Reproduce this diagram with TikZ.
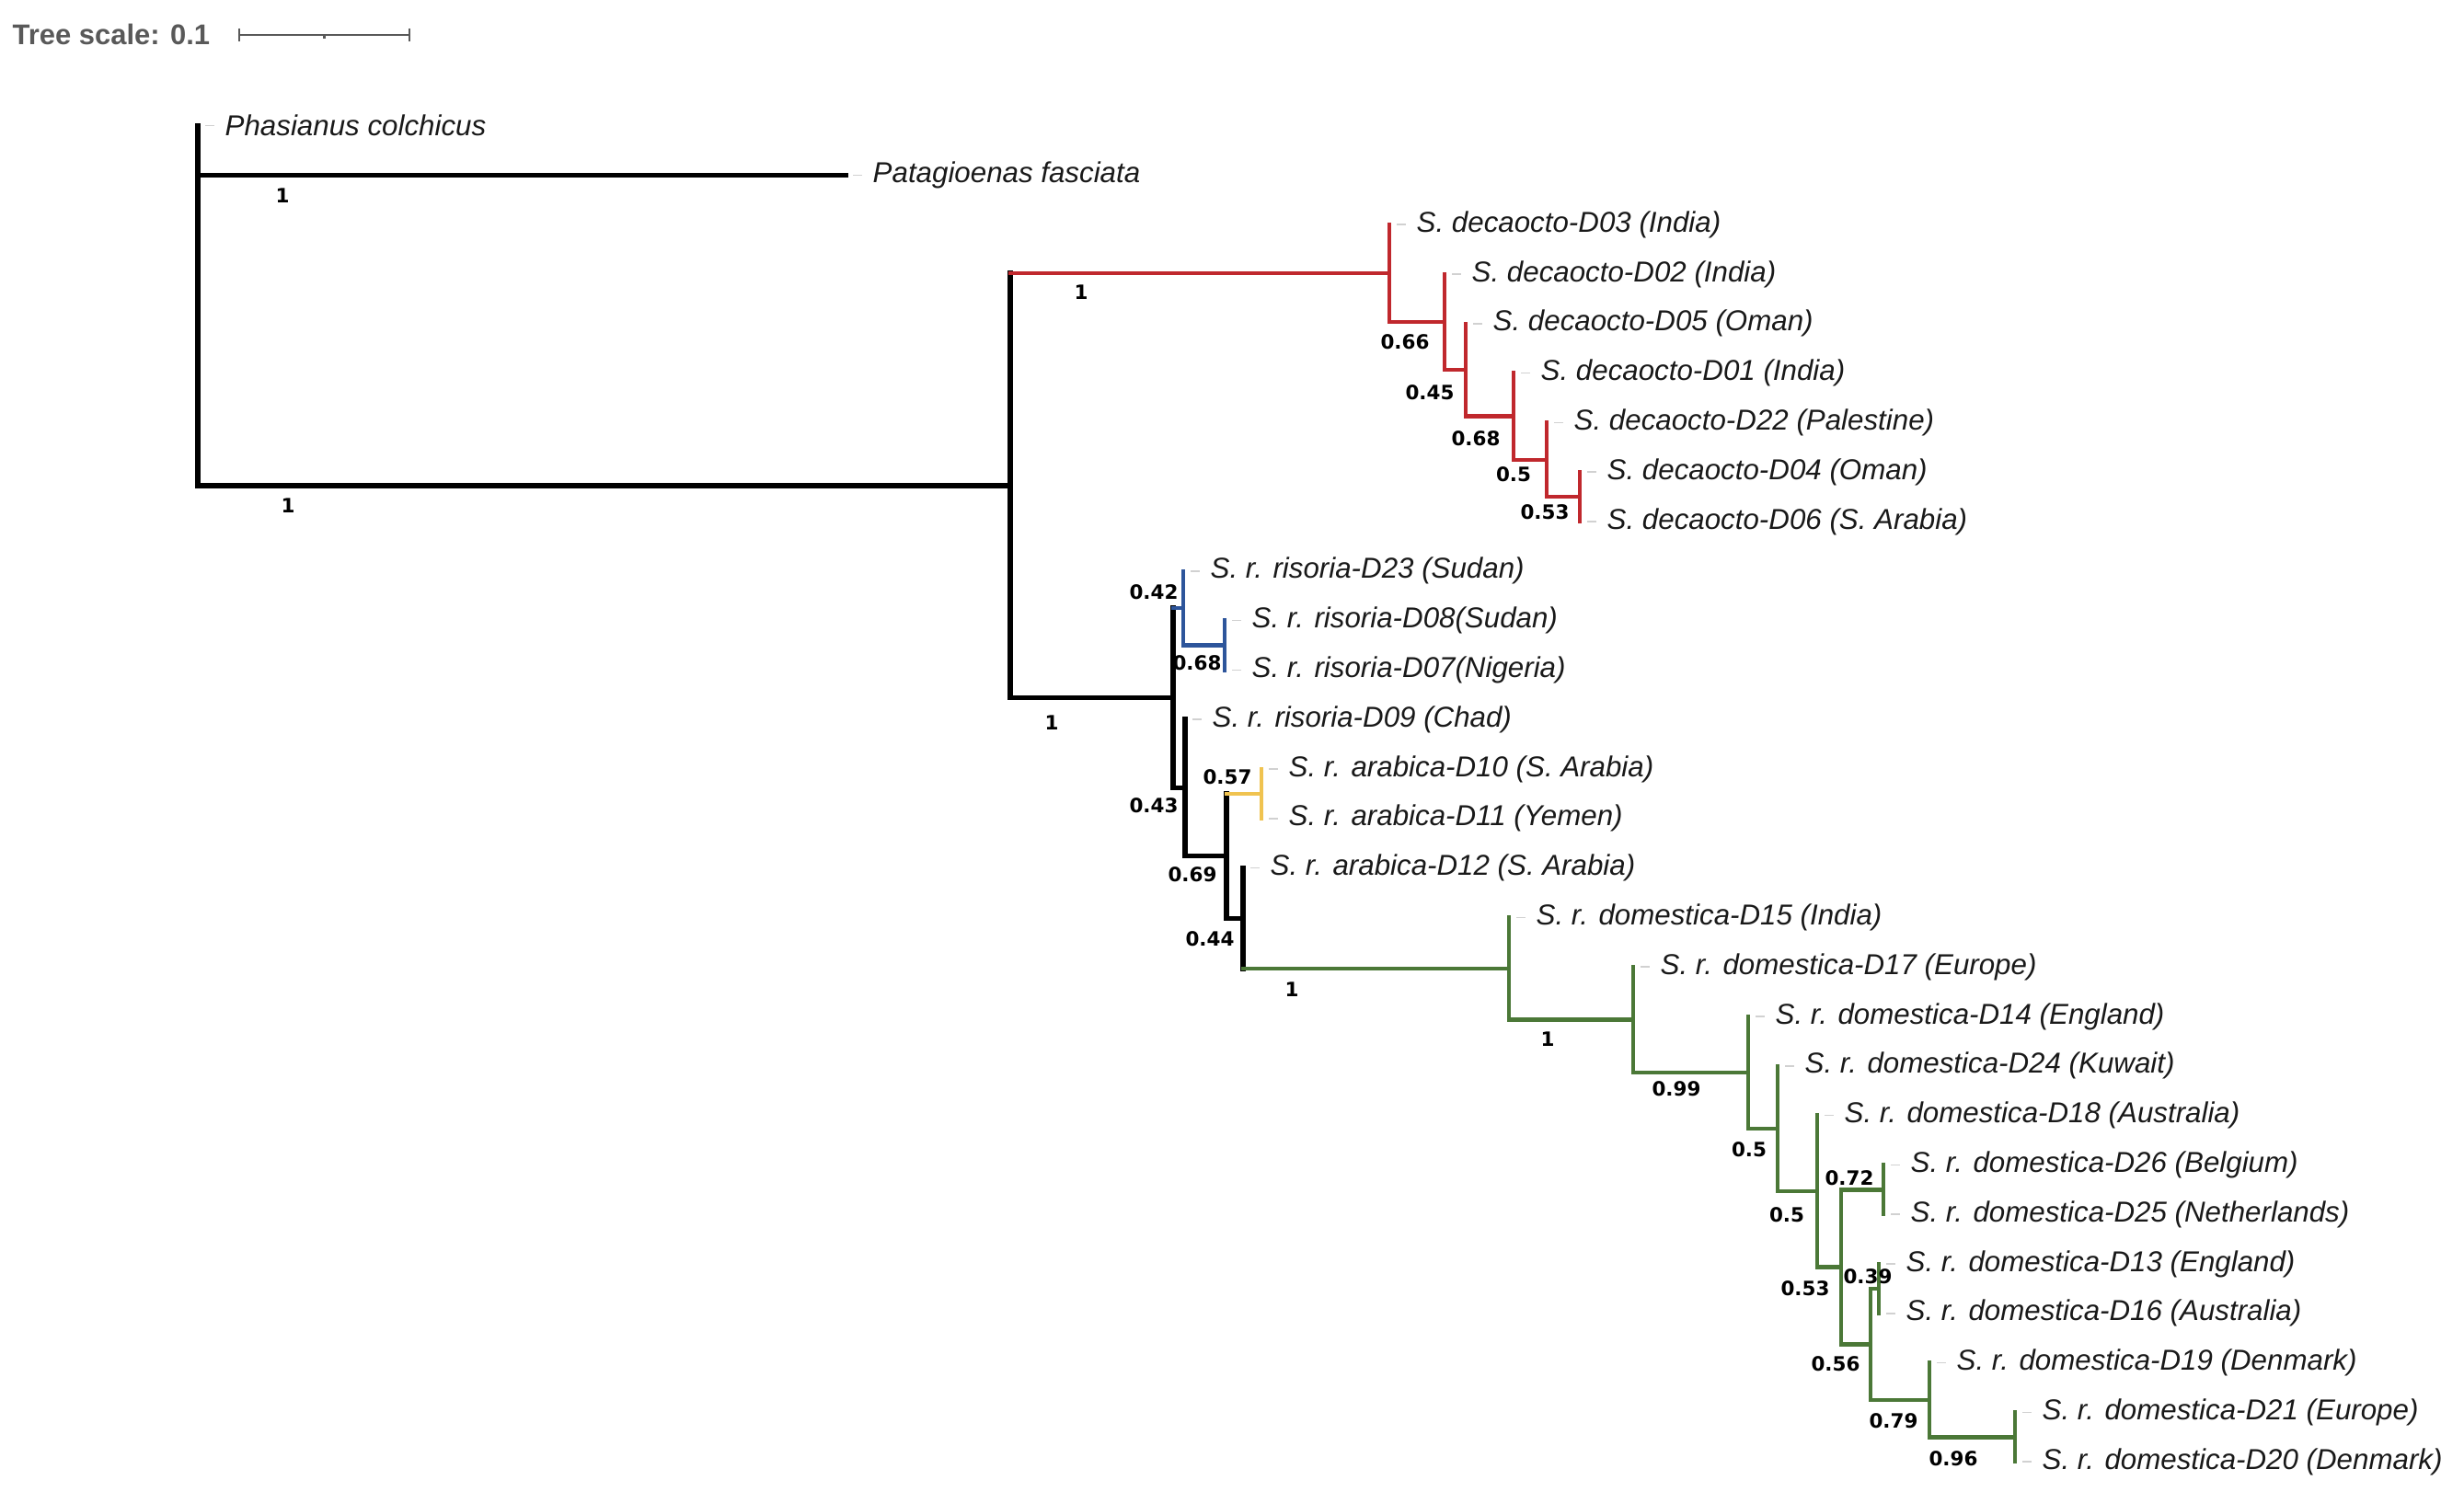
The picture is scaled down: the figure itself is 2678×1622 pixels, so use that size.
\documentclass[tikz,border=0pt]{standalone}
\usepackage{fontspec}
\setmainfont{Liberation Sans}
\newfontfamily\bsfont{DejaVu Sans}
\usetikzlibrary{calc}
\definecolor{cladered}{RGB}{192,40,45}
\definecolor{cladeblue}{RGB}{45,85,155}
\definecolor{cladeyellow}{RGB}{240,195,80}
\definecolor{cladegreen}{RGB}{75,120,55}
% row position of a tip (pixels from top)
\newcommand\rw[1]{136.6+53.8*#1}

\begin{document}
\begin{tikzpicture}[x=0.01cm,y=-0.01cm,
		branch/.style={line width=1.25pt,line cap=rect},
		blackbranch/.style={branch,line width=1.55pt},
		leaf/.style={anchor=west,inner sep=0pt,xshift=0.29cm,text=black!90,font=\fontsize{8.9}{10}\selectfont\itshape},
		support/.style={inner sep=0pt,font=\bsfont\bfseries\fontsize{6.1}{7}\selectfont},
		leader/.style={black!18,line width=.5pt},
		scalebar/.style={black!65,line width=.6pt}]
	\useasboundingbox (0,0) rectangle (2678,1622);
	% scale
	\node (ts) [anchor=west,inner sep=0pt,text=black!65,font=\fontsize{8.8}{10}\selectfont\bfseries] at (13,37) {Tree scale: 0.1};
	\coordinate (sb0) at (260,38);
	\coordinate (sb1) at (445,38);
	\draw[scalebar] (sb0) -- (sb1) ([yshift=.07cm]sb0) -- ([yshift=-.07cm]sb0) ([yshift=.07cm]sb1) -- ([yshift=-.07cm]sb1);
	\draw[scalebar] ($(sb0)!.5!(sb1)$) -- ++(0,4);
	% inner nodes
	\coordinate (rt) at (215,{\rw{0}});
	\coordinate (pat) at (919,{\rw{1}});
	\coordinate (G) at (1098,{\rw{7.2745}});
	\coordinate (A) at (1510,{\rw{2.984375}});
	\coordinate (B) at (1570,{\rw{3.96875}});
	\coordinate (C) at (1593,{\rw{4.9375}});
	\coordinate (D) at (1645,{\rw{5.875}});
	\coordinate (E) at (1681,{\rw{6.75}});
	\coordinate (F) at (1717,{\rw{7.5}});
	\coordinate (H) at (1275,{\rw{11.5646}});
	\coordinate (I) at (1286,{\rw{9.75}});
	\coordinate (K) at (1331,{\rw{10.5}});
	\coordinate (J) at (1288,{\rw{13.3791}});
	\coordinate (L) at (1333,{\rw{14.7583}});
	\coordinate (M) at (1371,{\rw{13.5}});
	\coordinate (N) at (1351,{\rw{16.0166}});
	\coordinate (O) at (1640,{\rw{17.0332}});
	\coordinate (P) at (1775,{\rw{18.0664}});
	\coordinate (Q) at (1900,{\rw{19.1328}});
	\coordinate (R) at (1932,{\rw{20.2656}});
	\coordinate (S) at (1975,{\rw{21.5313}});
	\coordinate (T) at (2001,{\rw{23.0625}});
	\coordinate (U) at (2047,{\rw{21.5}});
	\coordinate (V) at (2033,{\rw{24.625}});
	\coordinate (W) at (2042,{\rw{23.5}});
	\coordinate (X) at (2097,{\rw{25.75}});
	\coordinate (Y) at (2190,{\rw{26.5}});
	% tips
	\node (phc) [leaf] at (215,{\rw{0}}) {Phasianus colchicus};
	\node (paf) [leaf] at (pat) {Patagioenas fasciata};
	\node (d03) [leaf] at (1510,{\rw{2}}) {S. decaocto-D03 (India)};
	\node (d02) [leaf] at (1570,{\rw{3}}) {S. decaocto-D02 (India)};
	\node (d05) [leaf] at (1593,{\rw{4}}) {S. decaocto-D05 (Oman)};
	\node (d01) [leaf] at (1645,{\rw{5}}) {S. decaocto-D01 (India)};
	\node (d22) [leaf] at (1681,{\rw{6}}) {S. decaocto-D22 (Palestine)};
	\node (d04) [leaf] at (1717,{\rw{7}}) {S. decaocto-D04 (Oman)};
	\node (d06) [leaf] at (1717,{\rw{8}}) {S. decaocto-D06 (S. Arabia)};
	\node (d23) [leaf] at (1286,{\rw{9}}) {S. r. risoria-D23 (Sudan)};
	\node (d08) [leaf] at (1331,{\rw{10}}) {S. r. risoria-D08(Sudan)};
	\node (d07) [leaf] at (1331,{\rw{11}}) {S. r. risoria-D07(Nigeria)};
	\node (d09) [leaf] at (1288,{\rw{12}}) {S. r. risoria-D09 (Chad)};
	\node (d10) [leaf] at (1371,{\rw{13}}) {S. r. arabica-D10 (S. Arabia)};
	\node (d11) [leaf] at (1371,{\rw{14}}) {S. r. arabica-D11 (Yemen)};
	\node (d12) [leaf] at (1351,{\rw{15}}) {S. r. arabica-D12 (S. Arabia)};
	\node (d15) [leaf] at (1640,{\rw{16}}) {S. r. domestica-D15 (India)};
	\node (d17) [leaf] at (1775,{\rw{17}}) {S. r. domestica-D17 (Europe)};
	\node (d14) [leaf] at (1900,{\rw{18}}) {S. r. domestica-D14 (England)};
	\node (d24) [leaf] at (1932,{\rw{19}}) {S. r. domestica-D24 (Kuwait)};
	\node (d18) [leaf] at (1975,{\rw{20}}) {S. r. domestica-D18 (Australia)};
	\node (d26) [leaf] at (2047,{\rw{21}}) {S. r. domestica-D26 (Belgium)};
	\node (d25) [leaf] at (2047,{\rw{22}}) {S. r. domestica-D25 (Netherlands)};
	\node (d13) [leaf] at (2042,{\rw{23}}) {S. r. domestica-D13 (England)};
	\node (d16) [leaf] at (2042,{\rw{24}}) {S. r. domestica-D16 (Australia)};
	\node (d19) [leaf] at (2097,{\rw{25}}) {S. r. domestica-D19 (Denmark)};
	\node (d21) [leaf] at (2190,{\rw{26}}) {S. r. domestica-D21 (Europe)};
	\node (d20) [leaf] at (2190,{\rw{27}}) {S. r. domestica-D20 (Denmark)};
	\foreach \t in {phc,paf,d03,d02,d05,d01,d22,d04,d06,d23,d08,d07,d09,d10,d11,d12,d15,d17,d14,d24,d18,d26,d25,d13,d16,d19,d21,d20}
		\draw[leader] ([xshift=-.21cm]\t.west) -- ++(10,0);
	% branches
	\draw[blackbranch] (rt |- phc) -- (rt |- G) -- (G) (rt |- pat) -- (pat);
	\draw[blackbranch] (G |- A) |- (H) (H |- I) |- (J) (J |- d09) |- (L) (L |- M) |- (N) (N |- d12) -- (N |- O);
	\draw[branch,cladered] (G |- A) -- (A) (A |- d03) |- (B) (B |- d02) |- (C) (C |- d05) |- (D) (D |- d01) |- (E) (E |- d22) |- (F) (F |- d04) -- (F |- d06);
	\draw[branch,cladeblue] (H |- I) -- (I) (I |- d23) |- (K) (K |- d08) -- (K |- d07);
	\draw[branch,cladeyellow] (L |- M) -- (M) (M |- d10) -- (M |- d11);
	\draw[branch,cladegreen] (N |- O) -- (O) (O |- d15) |- (P) (P |- d17) |- (Q) (Q |- d14) |- (R) (R |- d24) |- (S) (S |- d18) |- (T)
		(T |- U) |- (V) (T |- U) -- (U) (U |- d26) -- (U |- d25) (V |- W) |- (X) (V |- W) -- (W) (W |- d13) -- (W |- d16) (X |- d19) |- (Y) (Y |- d21) -- (Y |- d20);
	% support values
	\node (bpat) [support] at (307,213) {1};
	\node (bG) [support] at (313,550) {1};
	\node (bA) [support] at (1175,318) {1};
	\node (bB) [support] at (1527,372) {0.66};
	\node (bC) [support] at (1554,427) {0.45};
	\node (bD) [support] at (1604,477) {0.68};
	\node (bE) [support] at (1645,516) {0.5};
	\node (bF) [support] at (1679,557) {0.53};
	\node (bH) [support] at (1143,786) {1};
	\node (bI) [support] at (1254,644) {0.42};
	\node (bK) [support] at (1301,721) {0.68};
	\node (bJ) [support] at (1254,876) {0.43};
	\node (bM) [support] at (1334,845) {0.57};
	\node (bL) [support] at (1296,951) {0.69};
	\node (bN) [support] at (1315,1021) {0.44};
	\node (bO) [support] at (1404,1076) {1};
	\node (bP) [support] at (1682,1130) {1};
	\node (bQ) [support] at (1822,1184) {0.99};
	\node (bR) [support] at (1901,1250) {0.5};
	\node (bS) [support] at (1942,1321) {0.5};
	\node (bU) [support] at (2010,1281) {0.72};
	\node (bT) [support] at (1962,1401) {0.53};
	\node (bW) [support] at (2030,1388) {0.39};
	\node (bV) [support] at (1995,1483) {0.56};
	\node (bX) [support] at (2058,1545) {0.79};
	\node (bY) [support] at (2123,1586) {0.96};
\end{tikzpicture}
\end{document}
